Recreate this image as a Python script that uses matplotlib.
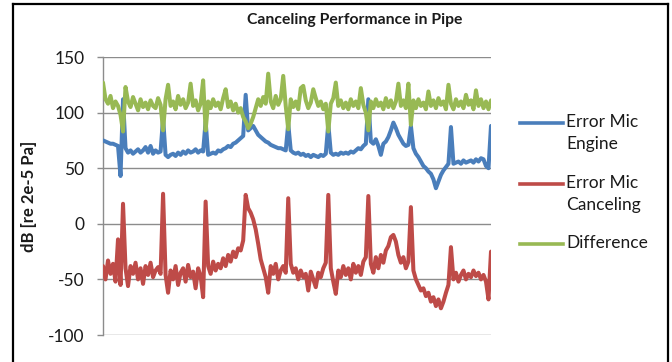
import numpy as np
import matplotlib
matplotlib.use("Agg")
import matplotlib.pyplot as plt
from matplotlib.lines import Line2D

plt.rcParams['font.family'] = ['Lato', 'DejaVu Sans']

# Measured levels, dB re 2e-5 Pa, one value per sample
engine = [
    75, 74, 73, 72, 72, 71, 70, 43, 112,
    68, 64, 66, 63, 65, 67, 64, 66, 69, 64, 70, 63, 66, 64, 65,
    95,
    62, 60, 62, 63, 61, 64, 62, 65, 63, 66, 64, 65, 67, 64, 66, 65,
    92,
    62, 63, 64, 63, 66, 65, 67, 68, 70, 69, 72, 73, 75, 77, 79,
    116,
    84, 86, 88, 84, 80, 78, 76, 74, 73, 71, 70, 69, 68, 68, 67, 66,
    90,
    66, 64, 63, 64, 62, 63, 61, 62, 60, 62, 61, 60, 62, 61, 63,
    90,
    64, 62, 63, 62, 64, 63, 64, 63, 65, 64, 66, 68, 67, 70, 72,
    112,
    74, 72, 76, 70, 62, 72, 74, 78, 84,
    91,
    86, 80, 76, 72, 70, 71,
    88,
    68, 63, 60, 56, 52, 50, 47, 45, 40, 32, 38, 44, 48, 51, 54,
    87,
    54, 55, 56, 54, 57, 55, 56, 57, 55, 58, 56, 59, 58, 52, 50,
    88,
]

canceling = [
    -38, -50, -33, -45, -36, -52, -14, -55, 18,
    -40, -56, -38, -45, -35, -50, -40, -54, -38, -46, -35, -48, -42, -39, -45,
    27,
    -46, -62, -42, -50, -38, -55, -44, -40, -52, -37, -48, -43, -58, -40, -47, -66,
    20,
    -38, -45, -34, -42, -36, -40, -31, -38, -28, -34, -25, -30, -22, -24, -15,
    26,
    14, 10, 4, -5, -18, -32,
    -40, -48, -62, -38, -45, -36, -50, -42, -38, -44,
    23,
    -36, -44, -40, -50, -42, -48, -45, -60, -43, -50, -57, -44, -48, -40, -35,
    26,
    -40, -52, -63, -42, -48, -38, -46, -40, -50, -36, -44, -38, -46, -34, -30,
    25,
    -36, -44, -30, -40, -28, -35, -24, -20, -12,
    -10,
    -16, -28, -35, -30, -40, -34,
    15,
    -42, -50, -55, -60, -58, -65, -62, -70, -66, -74, -68, -76, -70, -62, -55,
    -21,
    -50, -44, -52, -46, -42, -50, -45, -48, -42, -47, -44, -50, -46, -52, -68,
    -25,
]

difference = [
    127, 112, 108, 115, 104, 110, 106, 98, 83,
    123, 110, 105, 114, 108, 102, 112, 105, 109, 103, 111, 106, 104, 113, 107,
    84,
    112, 125, 106, 110, 103, 115, 107, 112, 104, 109, 126, 106, 111, 102, 108, 129,
    84,
    110, 104, 112, 106, 109, 103, 113, 121, 105, 110, 102, 108, 100, 104, 96,
    92,
    86, 90, 96, 104, 112, 106, 114, 108, 135, 110, 104, 115, 107, 112, 133, 106,
    85,
    112, 105, 110, 103, 122, 124, 111, 104, 109, 121, 113, 106, 110, 103, 108,
    83,
    108, 113, 127, 106, 111, 104, 109, 103, 112, 106, 110, 104, 122, 107, 100,
    84,
    110, 104, 112, 106, 109, 103, 113, 105, 111, 104, 110, 126, 106, 111, 104, 126,
    89,
    111, 104, 112, 106, 109, 103, 119, 106, 111, 104, 113, 107, 110, 103, 125,
    108, 103, 112, 106, 110, 104, 116, 107, 111, 103, 120, 106, 112, 104, 110, 103,
    111,
]

series_names = ["Error Mic\nEngine", "Error Mic\nCanceling", "Difference"]
series_colors = ["#4A7EBB", "#BE4B48", "#98B954"]
y_ticks = [-100, -50, 0, 50, 100, 150]

W, H = 672, 362
fig = plt.figure(figsize=(W / 100, H / 100), dpi=100)


def fx(px):
    return px / W


def fy(py):
    return 1 - py / H


ax = fig.add_axes([fx(103), fy(335), fx(491) - fx(103), fy(57) - fy(335)])

grid_color = "#8C8C8C"
for data, color in zip([engine, canceling, difference], series_colors):
    x = np.arange(len(data))
    ax.plot(x, data, color=color, lw=2.9, solid_joinstyle="round",
            solid_capstyle="round", zorder=3)

n = len(engine)
ax.set_xlim(0, n - 1)
ax.set_ylim(-100, 150)
ax.set_yticks(y_ticks)
ax.set_yticklabels([str(t) for t in y_ticks])
ax.set_xticks([])
ax.yaxis.grid(True, color=grid_color, lw=1.0)
ax.set_axisbelow(True)
for side in ["top", "right", "bottom"]:
    ax.spines[side].set_visible(False)
ax.spines["left"].set_color(grid_color)
ax.spines["left"].set_linewidth(1.0)
ax.tick_params(axis="y", length=4.5, width=1.0, color=grid_color,
               labelsize=12.5, labelcolor="#1a1a1a", pad=9)
ax.set_ylabel("dB [re 2e-5 Pa]", fontsize=12, fontweight="bold",
              color="#1a1a1a", labelpad=8)

fig.text(fx(355), fy(20), "Canceling Performance in Pipe", ha="center",
         va="center", fontsize=11.3, fontweight="bold", color="#1a1a1a")

# Legend entries, handle aligned with the first text line
legend_rows = [123, 184, 244]
for name, color, row in zip(series_names, series_colors, legend_rows):
    fig.add_artist(Line2D([fx(520), fx(563)], [fy(row), fy(row)],
                          color=color, lw=2.6, transform=fig.transFigure))
    fig.text(fx(566), fy(row - 9), name, ha="left", va="top",
             fontsize=12.5, color="#1a1a1a", linespacing=1.5)

# Chart frame
frame_kw = dict(color="black", lw=1.6, transform=fig.transFigure)
fig.add_artist(Line2D([fx(13), fx(668)], [fy(4), fy(4)], **frame_kw))
fig.add_artist(Line2D([fx(13), fx(13)], [fy(4), fy(362)], **frame_kw))
fig.add_artist(Line2D([fx(668), fx(668)], [fy(4), fy(362)], **frame_kw))

fig.savefig("out.png", dpi=100)
